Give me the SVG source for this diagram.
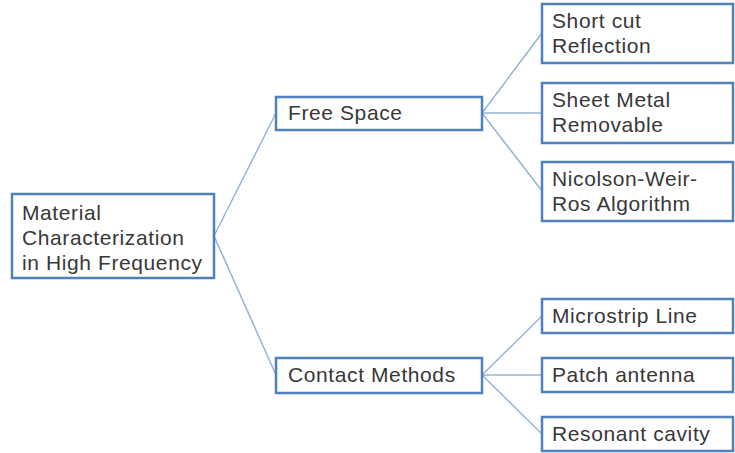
<svg xmlns="http://www.w3.org/2000/svg" width="735" height="453" viewBox="0 0 735 453">
<style>
.box{fill:#fff;stroke:#4F81BD;stroke-width:2.5}
.t{font-family:"Liberation Sans",Arial,sans-serif;font-size:21px;letter-spacing:0.6px;fill:#383838}
.c line{stroke:#95B3D7;stroke-width:1.5}
</style>
<rect width="735" height="453" fill="#fff"/>
<g class="c" id="connectors">
<line x1="214" y1="236" x2="276" y2="113"/>
<line x1="214" y1="236" x2="276" y2="375"/>
<line x1="482" y1="113" x2="542" y2="33"/>
<line x1="482" y1="113" x2="542" y2="113"/>
<line x1="482" y1="113" x2="542" y2="191"/>
<line x1="482" y1="375" x2="542" y2="316"/>
<line x1="482" y1="375" x2="542" y2="375"/>
<line x1="482" y1="375" x2="542" y2="434"/>
</g>
<g id="root"><rect class="box" x="12" y="194" width="202" height="84"/>
<text class="t" x="22" y="220">Material</text><text class="t" x="22" y="245">Characterization</text><text class="t" x="22" y="270">in High Frequency</text></g>
<g id="free"><rect class="box" x="276" y="97" width="206" height="33"/><text class="t" x="288" y="120">Free Space</text></g>
<g id="contact"><rect class="box" x="276" y="358" width="206" height="35"/><text class="t" x="288" y="382">Contact Methods</text></g>
<g id="short"><rect class="box" x="542" y="4" width="191" height="59"/><text class="t" x="552" y="28">Short cut</text><text class="t" x="552" y="53">Reflection</text></g>
<g id="sheet"><rect class="box" x="542" y="83" width="191" height="60"/><text class="t" x="552" y="107">Sheet Metal</text><text class="t" x="552" y="132">Removable</text></g>
<g id="nws"><rect class="box" x="542" y="162" width="191" height="59"/><text class="t" x="552" y="186">Nicolson-Weir-</text><text class="t" x="552" y="211">Ros Algorithm</text></g>
<g id="micro"><rect class="box" x="542" y="299" width="191" height="34"/><text class="t" x="552" y="323">Microstrip Line</text></g>
<g id="patch"><rect class="box" x="542" y="358" width="191" height="34"/><text class="t" x="552" y="382">Patch antenna</text></g>
<g id="reson"><rect class="box" x="542" y="417" width="191" height="34"/><text class="t" x="552" y="441">Resonant cavity</text></g>
</svg>
